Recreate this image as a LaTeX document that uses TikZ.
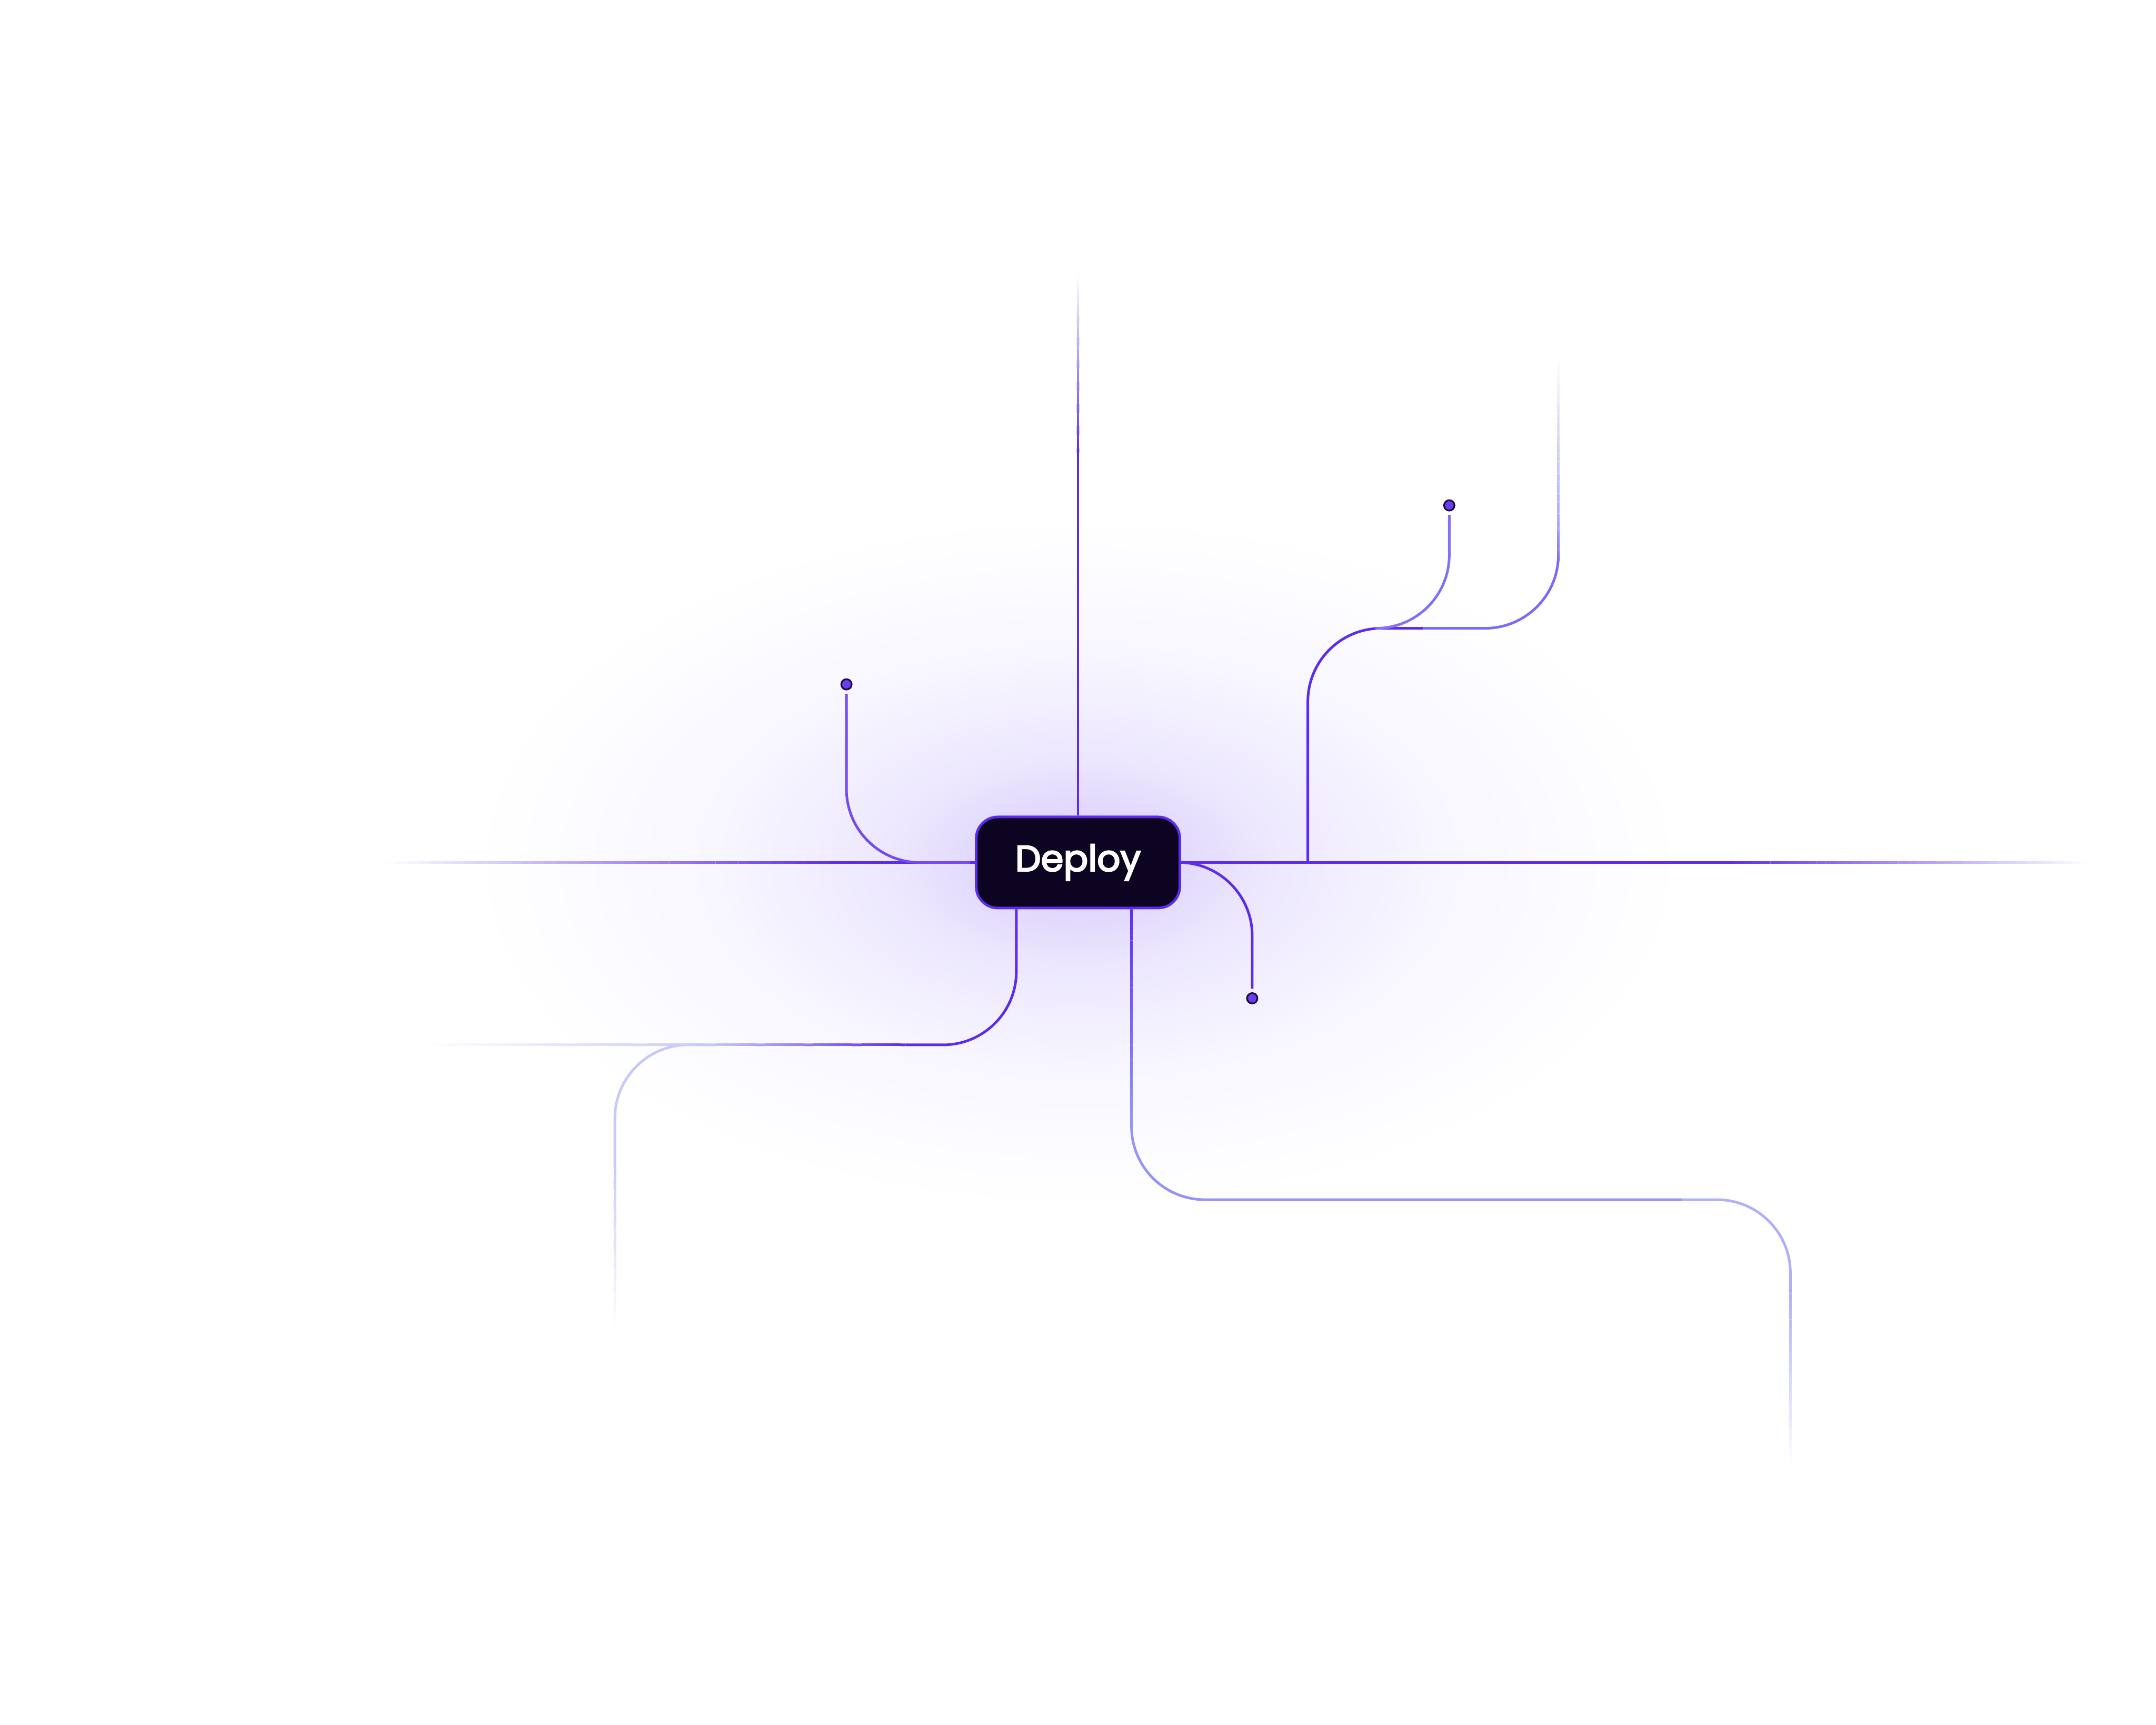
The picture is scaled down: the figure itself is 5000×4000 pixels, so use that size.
\documentclass[tikz,border=0pt]{standalone}
\usepackage{fontspec}
\newfontfamily\popb{Poppins}[FakeBold=3.5]
\usetikzlibrary{calc}
\definecolor{pstrong}{HTML}{5B2BEE}
\definecolor{pmid}{HTML}{7A6CF5}
\definecolor{pdot}{HTML}{7F72F5}
\definecolor{plight}{HTML}{9593F7}
\definecolor{plightB}{HTML}{AEB0F8}
\definecolor{ppale}{HTML}{C6C9F9}
\definecolor{boxfill}{HTML}{0C0420}
\definecolor{dotfill}{HTML}{6A3DF0}
\definecolor{dotline}{HTML}{1C0D42}
\definecolor{glowA}{HTML}{E0D7FC}
\definecolor{glowB}{HTML}{EDE8FE}
\definecolor{glowC}{HTML}{F8F6FF}
\pgfdeclareradialshading{glow}{\pgfpoint{0bp}{0bp}}{color(0bp)=(glowA); color(3.5bp)=(glowA); color(8bp)=(glowB); color(15bp)=(glowC); color(25bp)=(white); color(50bp)=(white)}
% gradient line: #1 start colour, #2 end colour, #3 start point, #4 end point
\newcommand\mygradline[4]{%
  \foreach \i in {0,...,39} {%
    \pgfmathsetmacro\ta{\i/40}%
    \pgfmathsetmacro\tb{(\i+1)/40}%
    \pgfmathsetmacro\pa{100*(\i+0.5)/40}%
    \draw[line width=0.06cm, color=#2!\pa!#1] ($(#3)!\ta!(#4)$) -- ($(#3)!\tb!(#4)$);
  }}
\begin{document}
\begin{tikzpicture}[x=0.01cm,y=-0.01cm,
  wire/.style={line width=0.06cm, rounded corners=1.7cm},
  dotst/.style={circle, fill=dotfill, draw=dotline, line width=0.04cm, minimum size=0.24cm, inner sep=0pt},
  boxst/.style={draw=pstrong, fill=boxfill, line width=0.06cm, rounded corners=0.5cm, minimum width=4.72cm, minimum height=2.11cm, text=white, font=\popb\fontsize{24}{28}\selectfont}]
\useasboundingbox (0,0) rectangle (5000,4000);
\fill[white] (0,0) rectangle (5000,4000);
\path[shading=glow] (2500,2000) ellipse [x radius=14cm, y radius=8cm];

\node[boxst] (box) at (2500,2000) {Deploy};

% named coordinates
\coordinate (J1) at (3033,2000);
\coordinate (bl0) at ($(box.south)+(-143,0)$);
\coordinate (br0) at ($(box.south)+(124,0)$);
\coordinate (topEnd) at (2500,638);
\coordinate (topF) at (2500,1050);
\coordinate (leftEnd) at (893,2000);
\coordinate (leftF) at (1950,2000);
\coordinate (rightF) at (4000,2000);
\coordinate (rightEnd) at (4847,2000);
\coordinate (urF) at (3614,1200);
\coordinate (urEnd) at (3614,829);
\coordinate (blA) at (2100,2423);
\coordinate (blB) at (1650,2423);
\coordinate (blF) at (1426,2700);
\coordinate (blEnd) at (1426,3078);
\coordinate (blLeft) at (989,2423);
\coordinate (brA) at (2624,2590);
\coordinate (brF) at (4152,3000);
\coordinate (brEnd) at (4152,3398);

% top vertical
\draw[pstrong, line width=0.06cm] (box.north) -- (topF);
\mygradline{pstrong}{white}{topF}{topEnd}

% main horizontal
\draw[pstrong, line width=0.06cm] (box.west) -- (leftF);
\mygradline{pstrong}{white}{leftF}{leftEnd}
\draw[pstrong, line width=0.06cm] (box.east) -- (rightF);
\mygradline{pstrong}{white}{rightF}{rightEnd}

% upper-left dot branch
\node[dotst] (d1) at (1963,1587) {};
\draw[wire, pstrong!85!white] ($(d1.south)+(0,8)$) |- (2250,2000);

% upper-right branch
\draw[wire, pstrong] (J1) -- (3033,1457) -- (3300,1457);
\draw[wire, pmid] (3300,1457) -- (3614,1457) -- (3614,1300);
\mygradline{pmid}{plightB}{3614,1300}{urF}
\mygradline{plightB}{white}{urF}{urEnd}
\node[dotst] (d2) at (3361,1172) {};
\draw[wire, pdot] ($(d2.south)+(0,8)$) |- (3190,1457);

% small right branch
\node[dotst] (d3) at (2904,2315) {};
\draw[wire, pstrong] (box.east) -| ($(d3.north)+(0,-8)$);

% bottom-left branch
\draw[wire, pstrong] (bl0) |- (blA);
\mygradline{pstrong}{ppale}{blA}{blB}
\draw[wire, ppale] (blB) -- (1426,2423) -- (blF);
\mygradline{ppale}{white}{blF}{blEnd}
\mygradline{ppale}{white}{blB}{blLeft}

% bottom-right branch
\mygradline{pstrong}{plight}{br0}{brA}
\draw[wire, plight] (brA) -- (2624,2782) -- (3900,2782);
\draw[wire, plightB] (3900,2782) -- (4152,2782) -- (brF);
\mygradline{plightB}{white}{brF}{brEnd}

\end{tikzpicture}
\end{document}
